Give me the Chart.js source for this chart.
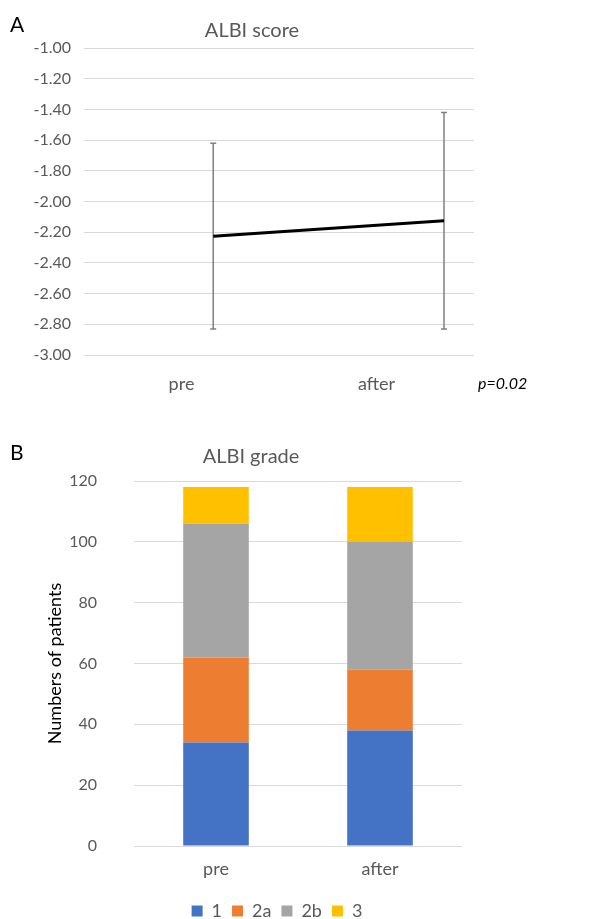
<!DOCTYPE html>
<html>
<head>
<meta charset="utf-8">
<script src="https://cdn.jsdelivr.net/npm/chart.js@4.4.0/dist/chart.umd.min.js"></script>
<style>
  body { margin: 0; background: #fff; font-family: Lato, "Open Sans", sans-serif; }
  #page { position: relative; width: 616px; height: 919px; overflow: hidden; }
  canvas { position: absolute; }
  .lbl { position: absolute; white-space: nowrap; }
  .ttl { position: absolute; width: 200px; text-align: center; font-size: 20px; color: #595959; line-height: 24px; }
</style>
</head>
<body>
<div id="page">
  <canvas id="scoreChart" width="616" height="400" style="left:0;top:0"></canvas>
  <canvas id="gradeChart" width="554" height="510" style="left:0;top:420px"></canvas>
  <div class="lbl" style="left:10px;top:11px;font-size:21px;color:#000">A</div>
  <div class="ttl" style="left:152px;top:17px">ALBI score</div>
  <div class="lbl" style="left:478px;top:373px;font-size:16px;font-style:italic;color:#000">p=0.02</div>
  <div class="lbl" style="left:10px;top:439px;font-size:21px;color:#000">B</div>
  <div class="ttl" style="left:151px;top:443px">ALBI grade</div>
</div>
<script>
// values
var categories = ["pre", "after"];
var scoreMean = [-2.226, -2.126];
var scoreUpper = [-1.62, -1.42];
var scoreLower = [-2.83, -2.83];

var gradeNames = ["1", "2a", "2b", "3"];
var grade1 = [34, 38];
var grade2a = [28, 20];
var grade2b = [44, 42];
var grade3 = [12, 18];
var gradeColors = ["#4472C4", "#ED7D31", "#A5A5A5", "#FFC000"];

Chart.defaults.font.family = "Lato, 'Open Sans', sans-serif";
Chart.defaults.color = "#595959";

// error bars drawn under the mean line
var errorBars = {
  id: "errorBars",
  beforeDatasetsDraw(chart) {
    var ctx = chart.ctx;
    var xs = chart.scales.x2;
    var ys = chart.scales.y;
    ctx.save();
    ctx.strokeStyle = "#808080";
    ctx.lineWidth = 1.5;
    scoreMean.forEach((m, i) => {
      var px = xs.getPixelForValue(i + 1);
      var top = ys.getPixelForValue(scoreUpper[i]);
      var bot = ys.getPixelForValue(scoreLower[i]);
      ctx.beginPath();
      ctx.moveTo(px, top); ctx.lineTo(px, bot);
      ctx.moveTo(px - 3, top); ctx.lineTo(px + 3, top);
      ctx.moveTo(px - 3, bot); ctx.lineTo(px + 3, bot);
      ctx.stroke();
    });
    ctx.restore();
  }
};

new Chart(document.getElementById("scoreChart"), {
  type: "line",
  data: {
    labels: categories,
    datasets: [{
      label: "ALBI score",
      xAxisID: "x2",
      data: scoreMean.map((v, i) => ({ x: i + 1, y: v })),
      borderColor: "#000",
      borderWidth: 3,
      pointRadius: 0,
      tension: 0
    }]
  },
  options: {
    responsive: false,
    animation: false,
    devicePixelRatio: 1,
    layout: { padding: { top: 48, right: 142, left: 0, bottom: 0 } },
    plugins: { legend: { display: false }, tooltip: { enabled: false } },
    scales: {
      x: {
        type: "category",
        offset: true,
        grid: { display: false },
        border: { display: false },
        ticks: { padding: 10, font: { size: 18 } },
        afterFit: s => { s.height = 45; }
      },
      x2: { type: "linear", display: false, min: 0.44, max: 2.13 },
      y: {
        min: -3, max: -1,
        grid: { color: "#d9d9d9", drawTicks: false },
        border: { display: false },
        ticks: { stepSize: 0.2, padding: 13, font: { size: 16 }, callback: v => v.toFixed(2) },
        afterFit: s => { s.width = 84; }
      }
    }
  },
  plugins: [errorBars]
});

var gradeData = [grade1, grade2a, grade2b, grade3];

new Chart(document.getElementById("gradeChart"), {
  type: "bar",
  data: {
    labels: categories,
    datasets: gradeNames.map((n, i) => ({
      label: n,
      data: gradeData[i],
      backgroundColor: gradeColors[i],
      barPercentage: 0.4,
      categoryPercentage: 1
    }))
  },
  options: {
    responsive: false,
    animation: false,
    devicePixelRatio: 1,
    layout: { padding: { top: 61, right: 0, left: 0, bottom: 0 } },
    plugins: {
      tooltip: { enabled: false },
      legend: {
        position: "bottom",
        labels: { boxWidth: 11, boxHeight: 11, padding: 10, font: { size: 18 } }
      }
    },
    scales: {
      x: {
        stacked: true,
        grid: { display: false },
        border: { display: false },
        ticks: { padding: 4, font: { size: 18 } },
        afterFit: s => { s.height = 46; }
      },
      y: {
        stacked: true,
        min: 0, max: 120,
        grid: { color: "#d9d9d9", drawTicks: false },
        border: { display: false },
        ticks: { stepSize: 20, padding: 37, font: { size: 16 } },
        title: { display: true, text: "Numbers of patients", color: "#000", font: { size: 18 }, padding: { top: 44, bottom: 0 } },
        afterFit: s => { s.width = 134; }
      },
      yR: {
        type: "linear",
        position: "right",
        grid: { display: false },
        border: { display: false },
        ticks: { display: false },
        afterFit: s => { s.width = 92; }
      }
    }
  }
});
</script>
</body>
</html>
